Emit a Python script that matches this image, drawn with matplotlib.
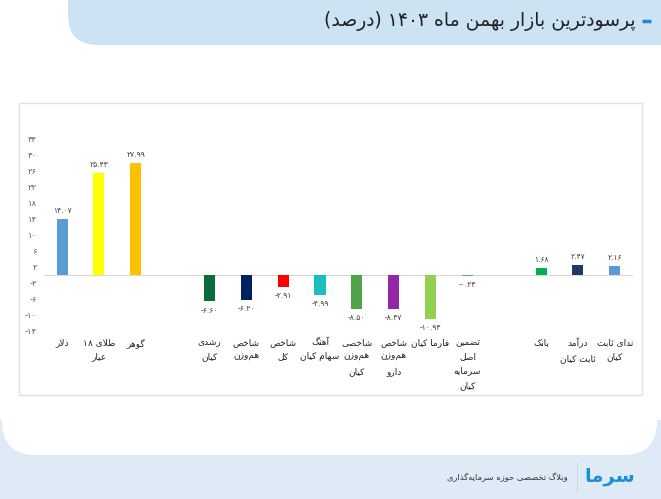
import re
import matplotlib
matplotlib.use('Agg')
import numpy as np
import matplotlib.pyplot as plt
from matplotlib.patches import FancyBboxPatch, Rectangle
from matplotlib.transforms import blended_transform_factory

plt.rcParams['font.family'] = ['DejaVu Sans']

# data
categories = ['دلار', 'طلای ۱۸\nعیار', 'گوهر', '',
              'رشدی\nکیان', 'شاخص\nهم\u200cوزن', 'شاخص\nکل', 'آهنگ\nسهام کیان',
              'شاخصی\nهم\u200cوزن\nکیان', 'شاخص\nهم\u200cوزن\nدارو', 'فارما کیان',
              'تضمین\nاصل\nسرمایه\nکیان', '',
              'بانک', 'درآمد\nثابت کیان', 'ندای ثابت\nکیان']
values = [14.07, 25.43, 27.99, np.nan,
          -6.60, -6.20, -2.91, -4.99, -8.50, -8.47, -10.93, -0.23, np.nan,
          1.68, 2.47, 2.16]
colors = ['#5b9bd5', '#ffff00', '#ffc000', 'none',
          '#0b6b3a', '#002060', '#ff0000', '#19bfbf', '#50a447', '#9327a8',
          '#92d050', '#5b9bd5', 'none', '#00b050', '#203864', '#5b9bd5']
yticks = list(range(-14, 35, 4))
title = 'پرسودترین بازار بهمن ماه ۱۴۰۳ (درصد)'
footer = 'وبلاگ تخصصی حوزه سرمایه\u200cگذاری'

# --- minimal persian shaping (matplotlib has no bidi / shaping) ---
FORMS = {
    'ا': ('\uFE8D', '\uFE8E'), 'آ': ('\uFE81', '\uFE82'),
    'ب': ('\uFE8F', '\uFE90', '\uFE91', '\uFE92'), 'پ': ('\uFB56', '\uFB57', '\uFB58', '\uFB59'),
    'ت': ('\uFE95', '\uFE96', '\uFE97', '\uFE98'), 'ث': ('\uFE99', '\uFE9A', '\uFE9B', '\uFE9C'),
    'ج': ('\uFE9D', '\uFE9E', '\uFE9F', '\uFEA0'), 'چ': ('\uFB7A', '\uFB7B', '\uFB7C', '\uFB7D'),
    'ح': ('\uFEA1', '\uFEA2', '\uFEA3', '\uFEA4'), 'خ': ('\uFEA5', '\uFEA6', '\uFEA7', '\uFEA8'),
    'د': ('\uFEA9', '\uFEAA'), 'ذ': ('\uFEAB', '\uFEAC'), 'ر': ('\uFEAD', '\uFEAE'),
    'ز': ('\uFEAF', '\uFEB0'), 'ژ': ('\uFB8A', '\uFB8B'),
    'س': ('\uFEB1', '\uFEB2', '\uFEB3', '\uFEB4'), 'ش': ('\uFEB5', '\uFEB6', '\uFEB7', '\uFEB8'),
    'ص': ('\uFEB9', '\uFEBA', '\uFEBB', '\uFEBC'), 'ض': ('\uFEBD', '\uFEBE', '\uFEBF', '\uFEC0'),
    'ط': ('\uFEC1', '\uFEC2', '\uFEC3', '\uFEC4'), 'ظ': ('\uFEC5', '\uFEC6', '\uFEC7', '\uFEC8'),
    'ع': ('\uFEC9', '\uFECA', '\uFECB', '\uFECC'), 'غ': ('\uFECD', '\uFECE', '\uFECF', '\uFED0'),
    'ف': ('\uFED1', '\uFED2', '\uFED3', '\uFED4'), 'ق': ('\uFED5', '\uFED6', '\uFED7', '\uFED8'),
    'ک': ('\uFB8E', '\uFB8F', '\uFB90', '\uFB91'), 'گ': ('\uFB92', '\uFB93', '\uFB94', '\uFB95'),
    'ل': ('\uFEDD', '\uFEDE', '\uFEDF', '\uFEE0'), 'م': ('\uFEE1', '\uFEE2', '\uFEE3', '\uFEE4'),
    'ن': ('\uFEE5', '\uFEE6', '\uFEE7', '\uFEE8'), 'ه': ('\uFEE9', '\uFEEA', '\uFEEB', '\uFEEC'),
    'و': ('\uFEED', '\uFEEE'), 'ی': ('\uFBFC', '\uFBFD', '\uFBFE', '\uFBFF'),
}
DUAL = {k for k, v in FORMS.items() if len(v) == 4}
LAM_ALEF = {'ا': ('\uFEFB', '\uFEFC'), 'آ': ('\uFEF5', '\uFEF6')}


def shape(s):
    s = s.replace('\u064A', 'ی').replace('\u0643', 'ک')
    res = []
    i = 0
    while i < len(s):
        c = s[i]
        prev = s[i - 1] if i > 0 else ''
        nxt = s[i + 1] if i + 1 < len(s) else ''
        joins_prev = c in FORMS and prev in DUAL
        if c == 'ل' and nxt in LAM_ALEF:
            res.append(LAM_ALEF[nxt][1 if joins_prev else 0])
            i += 2
            continue
        if c not in FORMS:
            if c != '\u200c':
                res.append(c)
            i += 1
            continue
        joins_next = c in DUAL and nxt in FORMS
        f = FORMS[c]
        if joins_prev and joins_next:
            res.append(f[3])
        elif joins_prev:
            res.append(f[1])
        elif joins_next:
            res.append(f[2])
        else:
            res.append(f[0])
        i += 1
    return ''.join(res)


def fa(s):
    out = []
    for line in s.split('\n'):
        r = shape(line)[::-1]
        r = re.sub(r'[0-9۰-۹.]+', lambda m: m.group(0)[::-1], r)
        out.append(r.translate(str.maketrans('()', ')(')))
    return '\n'.join(out)


def fa_num(s):
    return s.translate(str.maketrans('0123456789', '۰۱۲۳۴۵۶۷۸۹'))


W, H = 661, 499
fig = plt.figure(figsize=(W / 100, H / 100), dpi=100)
fig.patch.set_facecolor('white')

# background / decoration in pixel coords
bg = fig.add_axes([0, 0, 1, 1], zorder=0)
bg.set_xlim(0, W)
bg.set_ylim(H, 0)
bg.axis('off')
bg.add_patch(Rectangle((0, 420), W, 80, facecolor='#deebf7', edgecolor='none'))
bg.add_patch(FancyBboxPatch((2, -60), 655, 515, boxstyle='round,pad=0,rounding_size=34',
                            facecolor='white', edgecolor='none'))
bg.add_patch(FancyBboxPatch((68, -60), 640, 105, boxstyle='round,pad=0,rounding_size=30',
                            facecolor='#cce3f4', edgecolor='none'))
bg.add_patch(Rectangle((19, 103), 623, 292, facecolor='none', edgecolor='#e2e2e2', lw=1))
bg.plot([642, 651], [21, 21], color='#1e88d8', lw=2.5, solid_capstyle='butt')
bg.text(636, 21, fa(title), ha='right', va='center', fontsize=13.5, color='#222222')
bg.plot([577, 577], [463, 491], color='#c5d6e6', lw=0.8)
bg.text(610, 476, fa('سرما'), ha='center', va='center', fontsize=14, color='#1a8fd6',
        fontweight='bold')
bg.text(568, 477, fa(footer), ha='right', va='center', fontsize=6, color='#333333')

# chart
ax = fig.add_axes([0.066, 0.3367, 0.892, 0.3848], zorder=1)
ax.patch.set_alpha(0)
x = np.arange(len(values))
ax.axhline(0, color='#d9d9d9', lw=0.8, zorder=1)
bars = ax.bar(x, values, width=0.3, color=colors, zorder=2)
for xi, v in zip(x, values):
    if np.isnan(v):
        continue
    ax.annotate(fa_num(f'{v:.2f}'), (xi, v), xytext=(0, 3 if v > 0 else -3),
                textcoords='offset points', ha='center',
                va='bottom' if v > 0 else 'top', fontsize=5.5, color='#404040')
ax.set_xlim(-0.5, len(values) - 0.5)
ax.set_ylim(-14, 34)
ax.set_yticks(yticks)
ax.set_yticklabels([fa_num(str(t)) for t in yticks], fontsize=6, color='#595959')
ax.tick_params(axis='y', length=0, pad=5)
ax.set_xticks([])
for s in ax.spines.values():
    s.set_visible(False)

tr = blended_transform_factory(ax.transData, fig.transFigure)
for xi, c in zip(x, categories):
    if c:
        ax.text(xi, 1 - 338 / H, fa(c), transform=tr, ha='center', va='top',
                fontsize=6.5, color='#222222', linespacing=1.75, multialignment='center')

fig.savefig('out.png', dpi=100)
